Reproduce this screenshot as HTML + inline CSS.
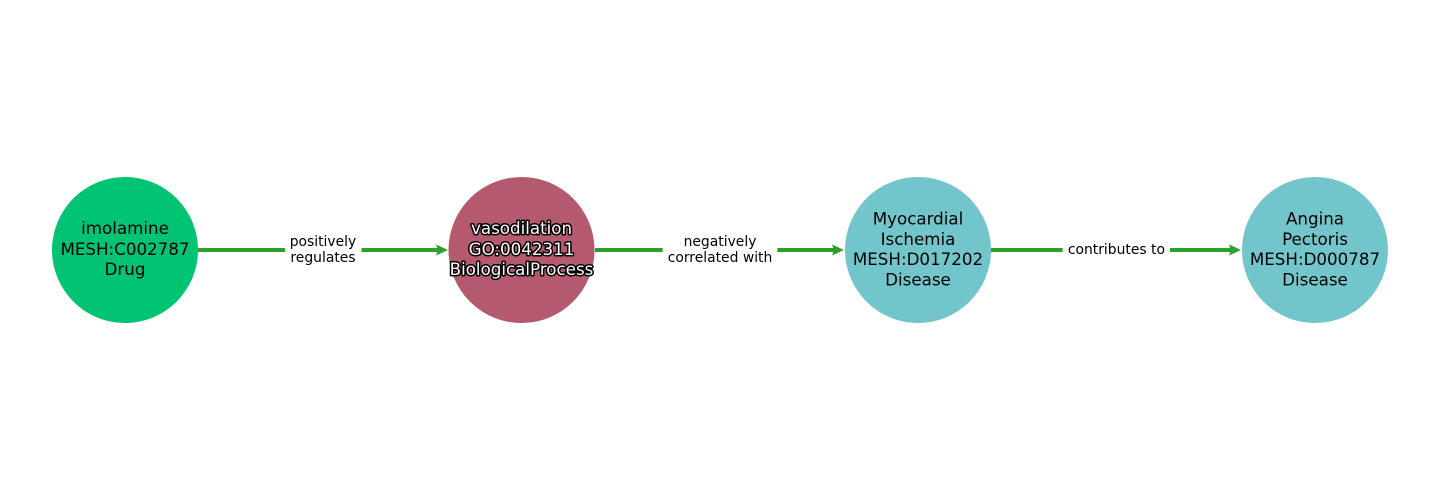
<!DOCTYPE html>
<html>
<head>
<meta charset="utf-8">
<style>
html,body{margin:0;padding:0;background:#fff;}
svg{display:block;}
text{font-family:"DejaVu Sans","Liberation Sans",sans-serif;}
.n{font-size:16.7px;fill:#000;text-anchor:middle;}
.w{font-size:16.7px;fill:#fff;stroke:#000;stroke-width:3px;paint-order:stroke;stroke-linejoin:round;text-anchor:middle;}
.e{font-size:13.9px;fill:#000;text-anchor:middle;}
</style>
</head>
<body>
<svg width="1440" height="500" viewBox="0 0 1440 500" xmlns="http://www.w3.org/2000/svg">
<rect width="1440" height="500" fill="#fff"/>
<!-- edges -->
<g stroke="#2ca02c" stroke-width="4" fill="none">
<line x1="198" y1="250" x2="438" y2="250"/>
<line x1="595" y1="250" x2="834" y2="250"/>
<line x1="991" y1="250" x2="1231" y2="250"/>
</g>
<g fill="#2ca02c">
<polygon points="448,250 436,244.5 438,250 436,255.5"/>
<polygon points="844,250 832,244.5 834,250 832,255.5"/>
<polygon points="1241,250 1229,244.5 1231,250 1229,255.5"/>
</g>
<!-- label boxes -->
<rect x="285" y="232" width="76.5" height="36" fill="#fff"/>
<rect x="662.7" y="232" width="114.6" height="36" fill="#fff"/>
<rect x="1062.7" y="240" width="107.3" height="20" fill="#fff"/>
<text class="e" x="323" y="246">positively</text>
<text class="e" x="323" y="262">regulates</text>
<text class="e" x="720" y="246">negatively</text>
<text class="e" x="720" y="262">correlated with</text>
<text class="e" x="1116.4" y="254">contributes to</text>
<!-- nodes -->
<circle cx="125" cy="250" r="73" fill="#00c374"/>
<circle cx="521.5" cy="250" r="73" fill="#b5596e"/>
<circle cx="918" cy="250" r="73" fill="#72c6cb"/>
<circle cx="1315" cy="250" r="73" fill="#72c6cb"/>
<text class="n" x="125" y="234">imolamine</text>
<text class="n" x="125" y="255">MESH:C002787</text>
<text class="n" x="125" y="275">Drug</text>
<text class="w" x="521.5" y="234">vasodilation</text>
<text class="w" x="521.5" y="255">GO:0042311</text>
<text class="w" x="521.5" y="275">BiologicalProcess</text>
<text class="n" x="918" y="224.5">Myocardial</text>
<text class="n" x="918" y="245">Ischemia</text>
<text class="n" x="918" y="265">MESH:D017202</text>
<text class="n" x="918" y="285.5">Disease</text>
<text class="n" x="1315" y="224.5">Angina</text>
<text class="n" x="1315" y="245">Pectoris</text>
<text class="n" x="1315" y="265">MESH:D000787</text>
<text class="n" x="1315" y="285.5">Disease</text>
</svg>
</body>
</html>
